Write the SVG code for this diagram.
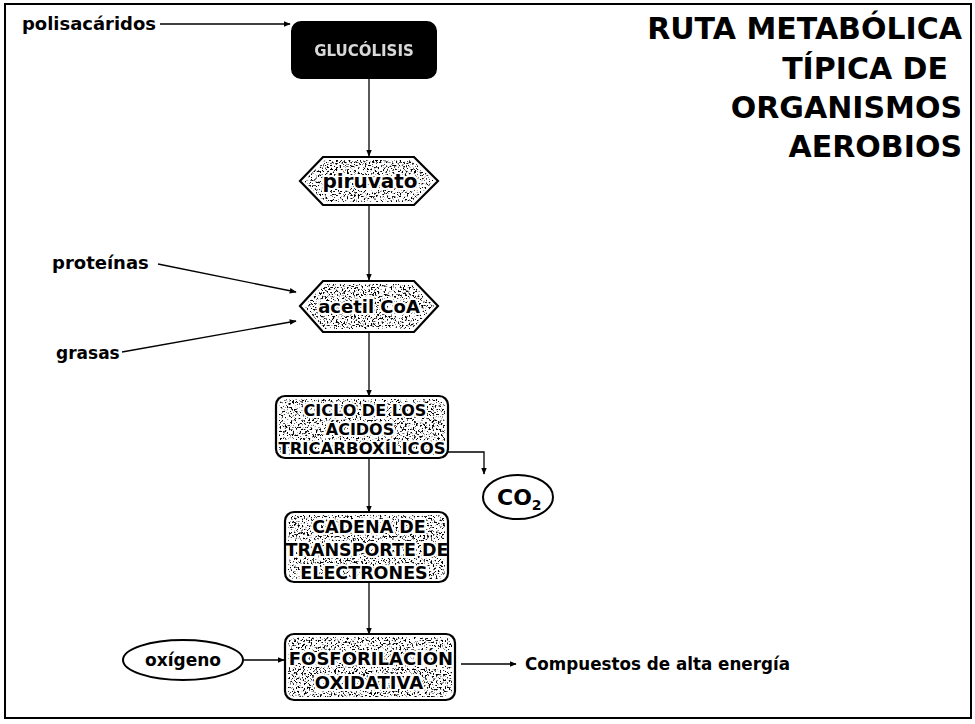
<svg xmlns="http://www.w3.org/2000/svg" width="975" height="724" viewBox="0 0 975 724">
  <style>
    .lbl { font-family: "DejaVu Sans", Verdana, sans-serif; font-weight: bold; fill: #000; }
    .title { font-family: "DejaVu Sans", Verdana, sans-serif; font-weight: bold; font-size: 30px; fill: #000; text-anchor: end; }
    .in { font-family: "DejaVu Sans", Verdana, sans-serif; font-weight: bold; fill: #000; text-anchor: middle; stroke: #fff; stroke-width: 4; paint-order: stroke; stroke-linejoin: round; }
    .edge { fill: none; stroke: #000; stroke-width: 1.3; }
    .shape { fill: #fff; stroke: none; }
    .outline { fill: none; stroke: #000; stroke-width: 2.2; }
    .grain { fill: #fff; filter: url(#grain); }
  </style>
  <defs>
    <marker id="arr" viewBox="0 0 10 10" refX="9" refY="5" markerWidth="7" markerHeight="7" orient="auto" markerUnits="userSpaceOnUse">
      <path d="M0,1 L10,5 L0,9 Z" fill="#000"/>
    </marker>
    <!-- speckled fill for the process shapes -->
    <filter id="grain" x="0" y="0" width="100%" height="100%">
      <feTurbulence type="fractalNoise" baseFrequency="0.55" numOctaves="2" seed="7" result="n"/>
      <feColorMatrix in="n" type="matrix" values="0 0 0 0 0  0 0 0 0 0  0 0 0 0 0  9 0 0 0 -4.9" result="dots"/>
      <feComposite in="dots" in2="SourceGraphic" operator="in"/>
    </filter>
  </defs>

  <rect x="0" y="0" width="975" height="724" fill="#fff"/>
  <!-- frame -->
  <rect x="5" y="4" width="966" height="714" fill="none" stroke="#000" stroke-width="2"/>

  <!-- title -->
  <g id="title">
    <text class="title" x="962" y="39">RUTA METABÓLICA</text>
    <text class="title" x="948" y="79">TÍPICA DE</text>
    <text class="title" x="962" y="118">ORGANISMOS</text>
    <text class="title" x="962" y="157">AEROBIOS</text>
  </g>

  <!-- connectors -->
  <g id="connectors">
    <line class="edge" x1="160" y1="24" x2="290" y2="24" marker-end="url(#arr)"/>
    <line class="edge" x1="369" y1="78" x2="369" y2="156" marker-end="url(#arr)"/>
    <line class="edge" x1="369" y1="205" x2="369" y2="280" marker-end="url(#arr)"/>
    <line class="edge" x1="158" y1="264" x2="296" y2="292" marker-end="url(#arr)"/>
    <line class="edge" x1="122" y1="352" x2="296" y2="321" marker-end="url(#arr)"/>
    <line class="edge" x1="369" y1="332" x2="369" y2="396" marker-end="url(#arr)"/>
    <polyline class="edge" points="448,452 484,452 484,474" marker-end="url(#arr)"/>
    <line class="edge" x1="369" y1="458" x2="369" y2="512" marker-end="url(#arr)"/>
    <line class="edge" x1="369" y1="582" x2="369" y2="634" marker-end="url(#arr)"/>
    <line class="edge" x1="244" y1="660" x2="284" y2="660" marker-end="url(#arr)"/>
    <line class="edge" x1="461" y1="664" x2="516" y2="664" marker-end="url(#arr)"/>
  </g>

  <!-- free labels -->
  <g id="polisacaridos"><text class="lbl" x="22" y="30" font-size="18" textLength="134" lengthAdjust="spacingAndGlyphs">polisacáridos</text></g>
  <g id="proteinas"><text class="lbl" x="52" y="269" font-size="18">proteínas</text></g>
  <g id="grasas"><text class="lbl" x="56" y="359" font-size="17">grasas</text></g>
  <g id="compuestos"><text class="lbl" x="525" y="670" font-size="17" textLength="265" lengthAdjust="spacingAndGlyphs">Compuestos de alta energía</text></g>

  <!-- glucólisis -->
  <g id="glucolisis">
    <rect x="292" y="22" width="144" height="56" rx="9" fill="#000" stroke="#000" stroke-width="2"/>
    <text x="364" y="56" text-anchor="middle" font-family="DejaVu Sans, Verdana, sans-serif" font-weight="bold" font-size="15" fill="#fff" opacity="0.85">GLUCÓLISIS</text>
  </g>

  <!-- piruvato -->
  <g id="piruvato">
    <polygon class="shape" points="300,181 323,157 414,157 438,181 414,205 323,205"/>
    <polygon class="grain" points="304,181 325,160 412,160 434,181 412,202 325,202"/>
    <text class="in" x="370" y="188" font-size="20">piruvato</text>
    <polygon class="outline" points="300,181 323,157 414,157 438,181 414,205 323,205"/>
  </g>

  <!-- acetil CoA -->
  <g id="acetilcoa">
    <polygon class="shape" points="300,306 323,281 414,281 438,306 414,332 323,332"/>
    <polygon class="grain" points="304,306 325,284 412,284 434,306 412,329 325,329"/>
    <text class="in" x="369" y="313" font-size="18">acetil CoA</text>
    <polygon class="outline" points="300,306 323,281 414,281 438,306 414,332 323,332"/>
  </g>

  <!-- ciclo de los ácidos tricarboxílicos -->
  <g id="ciclo">
    <rect class="shape" x="276" y="396" width="172" height="62" rx="9"/>
    <rect class="grain" x="279" y="399" width="166" height="56" rx="7"/>
    <text class="in" x="365" y="416" font-size="16">CICLO DE LOS</text>
    <text class="in" x="360" y="435" font-size="16">ÁCIDOS</text>
    <text class="in" x="362" y="454" font-size="16.5">TRICARBOXÍLICOS</text>
    <rect class="outline" x="276" y="396" width="172" height="62" rx="9"/>
  </g>

  <!-- CO2 -->
  <g id="co2">
    <ellipse cx="518" cy="497" rx="35" ry="22" fill="#fff" stroke="#000" stroke-width="2"/>
    <text class="lbl" x="497" y="505" font-size="22">CO<tspan font-size="14" dy="5">2</tspan></text>
  </g>

  <!-- cadena de transporte de electrones -->
  <g id="cadena">
    <rect class="shape" x="285" y="512" width="163" height="70" rx="9"/>
    <rect class="grain" x="288" y="515" width="157" height="64" rx="7"/>
    <text class="in" x="369" y="533" font-size="17.5">CADENA DE</text>
    <text class="in" x="367" y="556" font-size="17.5">TRANSPORTE DE</text>
    <text class="in" x="364" y="579" font-size="17.5">ELECTRONES</text>
    <rect class="outline" x="285" y="512" width="163" height="70" rx="9"/>
  </g>

  <!-- fosforilación oxidativa -->
  <g id="fosforilacion">
    <rect class="shape" x="285" y="634" width="170" height="66" rx="9"/>
    <rect class="grain" x="288" y="637" width="164" height="60" rx="7"/>
    <text class="in" x="371" y="665" font-size="18">FOSFORILACIÓN</text>
    <text class="in" x="369" y="689" font-size="18">OXIDATIVA</text>
    <rect class="outline" x="285" y="634" width="170" height="66" rx="9"/>
  </g>

  <!-- oxígeno -->
  <g id="oxigeno">
    <ellipse cx="183" cy="660" rx="60" ry="20" fill="#fff" stroke="#000" stroke-width="2"/>
    <text class="lbl" x="183" y="666" font-size="17" text-anchor="middle">oxígeno</text>
  </g>
</svg>
